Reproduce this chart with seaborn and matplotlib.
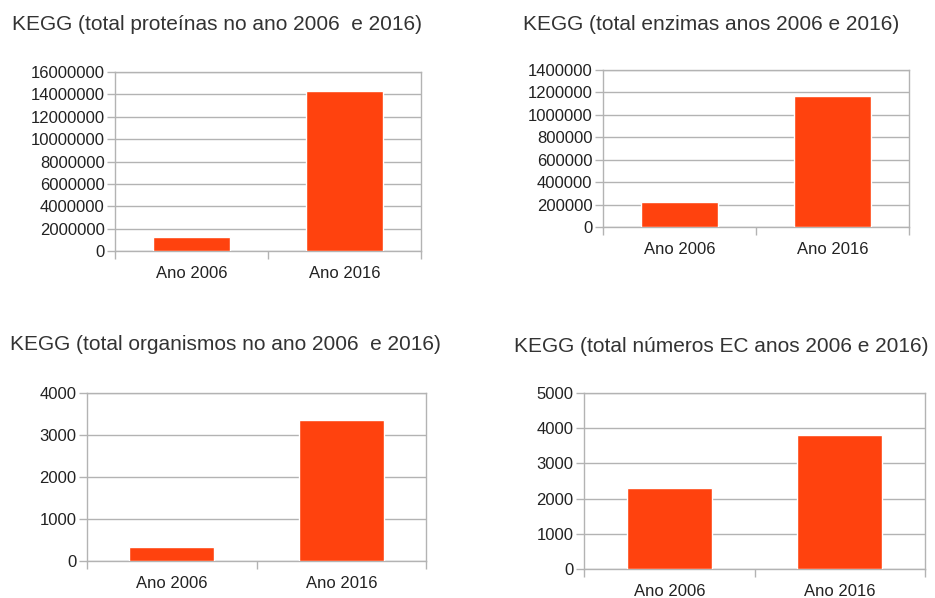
import matplotlib
matplotlib.use("Agg")
import matplotlib.pyplot as plt
import seaborn as sns
import pandas as pd

categories = ["Ano 2006", "Ano 2016"]

proteinas = [1250000, 14330000]
enzimas = [225000, 1171000]
organismos = [324, 3364]
numeros_ec = [2300, 3816]

titles = [
    "KEGG (total proteínas no ano 2006  e 2016)",
    "KEGG (total enzimas anos 2006 e 2016)",
    "KEGG (total organismos no ano 2006  e 2016)",
    "KEGG (total números EC anos 2006 e 2016)",
]
yticks = [
    [0, 2000000, 4000000, 6000000, 8000000, 10000000, 12000000, 14000000, 16000000],
    [0, 200000, 400000, 600000, 800000, 1000000, 1200000, 1400000],
    [0, 1000, 2000, 3000, 4000],
    [0, 1000, 2000, 3000, 4000, 5000],
]
series = [proteinas, enzimas, organismos, numeros_ec]

sns.set_theme(style="white")
plt.rcParams["font.family"] = ["Liberation Sans", "DejaVu Sans"]

W, H = 935, 598
fig = plt.figure(figsize=(W / 100, H / 100), dpi=100)

# axes boxes in pixel coords: left, right, top, bottom
boxes = [
    (115, 421, 72, 251),
    (603, 909, 70, 227),
    (87, 426, 393, 561),
    (584, 925, 393, 569),
]
title_pos = [(12, 24), (523, 24), (10, 345), (514, 346)]

bar_color = "#ff420e"
line_color = "#b3b3b3"
text_color = "#222222"

for vals, ttl, yt, box, tp in zip(series, titles, yticks, boxes, title_pos):
    l, r, t, b = box
    ax = fig.add_axes([l / W, (H - b) / H, (r - l) / W, (b - t) / H])
    df = pd.DataFrame({"cat": categories, "val": vals})
    sns.barplot(data=df, x="cat", y="val", color=bar_color, saturation=1,
                width=0.5, ax=ax, zorder=3)
    ax.set_ylim(0, yt[-1])
    ax.set_xlim(-0.5, 1.5)
    ax.set_yticks(yt)
    ax.set_yticklabels([str(v) for v in yt])
    ax.set_xlabel("")
    ax.set_ylabel("")
    ax.yaxis.grid(True, color=line_color, linewidth=1, zorder=0)
    ax.set_axisbelow(True)
    for s in ax.spines.values():
        s.set_color(line_color)
        s.set_linewidth(1)
    ax.tick_params(axis="y", which="major", length=6, width=1, color=line_color,
                   pad=1.5, labelsize=12, labelcolor=text_color, left=True)
    ax.set_xticks([-0.5, 0.5, 1.5], minor=True)
    ax.tick_params(axis="x", which="minor", length=6, width=1, color=line_color,
                   bottom=True)
    ax.tick_params(axis="x", which="major", length=0, pad=11, labelsize=12,
                   labelcolor=text_color)
    fig.text(tp[0] / W, 1 - tp[1] / H, ttl, ha="left", va="center",
             fontsize=15, color="#333333")

fig.savefig("out.png", dpi=100, facecolor="white")
